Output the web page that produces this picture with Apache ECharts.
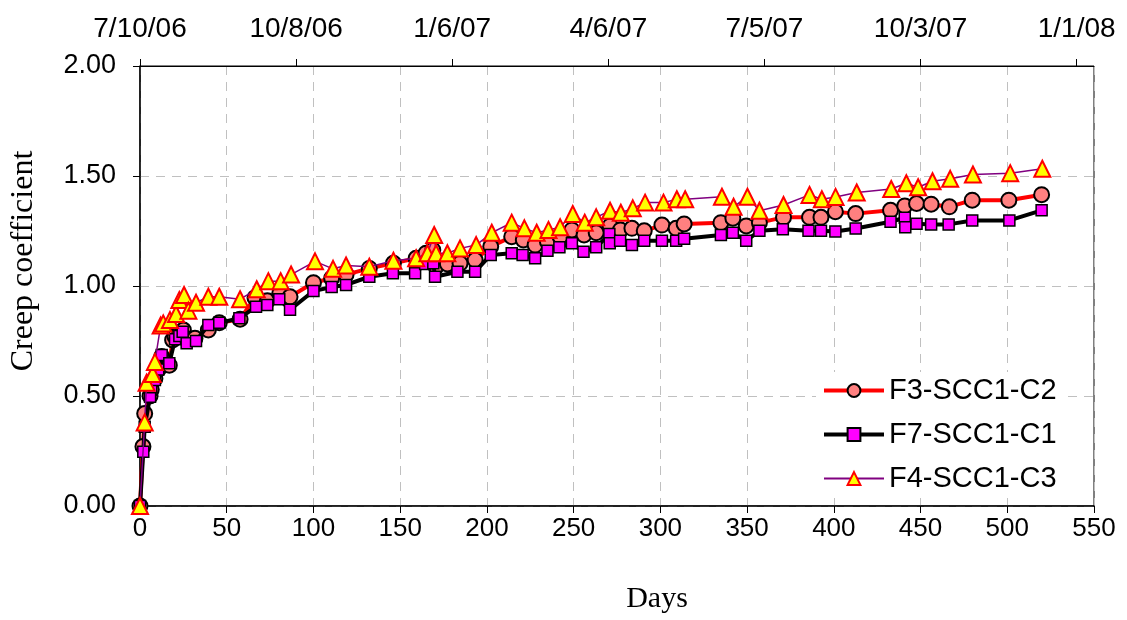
<!DOCTYPE html>
<html><head><meta charset="utf-8">
<script src="https://cdn.jsdelivr.net/npm/echarts@6/dist/echarts.min.js"></script>
<style>html,body{margin:0;padding:0;background:#fff}#c{width:1127px;height:620px}</style>
</head><body><div id="c"></div>
<script>
// Days since loading and creep coefficient
const f3Days = [0,1.7,2.7,5.8,6.5,8.6,10.5,12.5,16.9,18.8,20.2,22.7,25,26.9,31.7,39.4,45.7,57.7,66.3,73.4,80.5,86.5,100,110.5,118.8,132.2,146.1,159.2,164.9,168.8,170.7,177.2,184.5,193.2,202.2,214.3,221,227.8,234.9,242.2,249,256,263,271,277,283.6,290.7,300.9,309.1,313.7,334.9,341.8,349.5,357.1,371,386,392.6,400.9,412.6,432.7,440.9,447.7,456.1,466.6,479.8,500.9,519.8];
const f3Vals = [0,0.27,0.42,0.50,0.53,0.58,0.62,0.68,0.64,0.755,0.77,0.78,0.80,0.76,0.762,0.80,0.833,0.849,0.947,0.933,0.965,0.951,1.015,1.035,1.052,1.08,1.103,1.126,1.149,1.164,1.088,1.10,1.103,1.118,1.179,1.224,1.209,1.186,1.201,1.224,1.255,1.232,1.242,1.273,1.255,1.262,1.251,1.277,1.262,1.282,1.288,1.308,1.273,1.288,1.312,1.312,1.312,1.338,1.329,1.344,1.364,1.375,1.372,1.36,1.39,1.39,1.415];

const f7Days = [0,1.9,2.7,5.8,6.5,8.6,10.5,12.5,16.9,20.2,22.7,24.6,26.9,32.3,39.4,45.7,57.3,66.9,73.4,80.3,86.5,100,110.5,118.8,132.2,145.8,158.6,164.4,169.1,170.1,183,193.2,202.2,214.3,220.6,227.8,234.9,241.8,249,255.7,263,270.6,270.8,276.8,283.6,290.7,300.9,309.1,313.7,334.9,341.8,349.5,357.1,370.6,385.4,392.6,400.9,412.6,432.7,440.9,441.2,447.7,456.1,466.2,479.8,501.2,519.8];
const f7Vals = [0,0.247,0.36,0.497,0.54,0.573,0.62,0.686,0.649,0.758,0.773,0.792,0.74,0.75,0.823,0.833,0.853,0.906,0.914,0.94,0.892,0.977,0.995,1.005,1.042,1.058,1.058,1.10,1.103,1.042,1.065,1.065,1.141,1.149,1.141,1.126,1.16,1.176,1.194,1.156,1.176,1.236,1.194,1.206,1.186,1.206,1.206,1.206,1.215,1.232,1.242,1.206,1.251,1.258,1.251,1.251,1.248,1.261,1.292,1.31,1.267,1.283,1.28,1.28,1.298,1.298,1.344];

const f4Days = [0,2.7,3.8,7.3,8.6,11.9,13.4,17.3,20.8,22.7,25.4,27.9,32.3,39.4,45.7,57.7,67.3,74,81.1,87.1,100.9,111.3,118.8,132.2,146.1,159.2,165.7,169.6,170.7,177.2,184.5,193.8,202.8,214.3,221.6,228.7,235.5,242.2,249.5,256.4,263,271,277.2,284.1,291.2,301.8,309.5,314.3,335.5,342.2,350.2,357.1,371,386,393.1,401,413.2,433.1,441.8,448.6,456.9,467.1,480.2,501.7,520.2];
const f4Vals = [0,0.38,0.56,0.60,0.655,0.82,0.83,0.845,0.873,0.936,0.959,0.888,0.924,0.951,0.951,0.94,0.985,1.022,1.022,1.052,1.112,1.078,1.093,1.088,1.115,1.126,1.149,1.232,1.149,1.149,1.171,1.186,1.242,1.288,1.262,1.242,1.255,1.267,1.327,1.288,1.312,1.342,1.333,1.353,1.379,1.379,1.394,1.394,1.406,1.36,1.406,1.342,1.368,1.414,1.394,1.405,1.425,1.441,1.467,1.449,1.476,1.487,1.507,1.513,1.533];

const seriesNames = ['F3-SCC1-C2','F7-SCC1-C1','F4-SCC1-C3'];
const topTickDays = [0,90,180,270,360,450,540];
const topTickLabels = ['7/10/06','10/8/06','1/6/07','4/6/07','7/5/07','10/3/07','1/1/08'];

const pair = (xs, ys) => xs.map((x, i) => [x, ys[i]]);
const sans = 'Liberation Sans, Arial, sans-serif';
const serif = 'Liberation Serif, Times New Roman, serif';

const chart = echarts.init(document.getElementById('c'), null, {renderer: 'canvas'});
chart.setOption({
  animation: false,
  backgroundColor: '#fff',
  grid: {left: 139, right: 33, top: 66, bottom: 114, show: true, borderColor: '#000', borderWidth: 1, backgroundColor: 'transparent'},
  legend: {
    orient: 'vertical', left: 816, top: 372,
    data: [
      {name: seriesNames[0], lineStyle: {width: 4, color: '#ff0000'}},
      {name: seriesNames[1], lineStyle: {width: 4, color: '#000'}},
      {name: seriesNames[2], lineStyle: {width: 2, color: '#800080'}}
    ],
    itemWidth: 60, itemHeight: 16, itemGap: 15,
    backgroundColor: '#fff', padding: [4, 6, 4, 6],
    textStyle: {fontFamily: sans, fontSize: 29, color: '#000'}
  },
  xAxis: [{
    type: 'value', min: 0, max: 550, interval: 50, position: 'bottom',
    name: 'Days', nameLocation: 'middle', nameGap: 78,
    nameTextStyle: {fontFamily: serif, fontSize: 30, color: '#000', padding: [0, 0, 0, 80]},
    axisLine: {lineStyle: {color: '#000', width: 1.5}},
    axisTick: {show: true, inside: false, length: 7, lineStyle: {color: '#000'}},
    axisLabel: {fontFamily: sans, fontSize: 26, color: '#000', margin: 10},
    splitLine: {show: true, lineStyle: {color: '#c0c0c0', type: [9, 7], width: 1}}
  }, {
    type: 'value', min: 0, max: 550, position: 'top',
    axisLine: {lineStyle: {color: '#000', width: 1}},
    axisTick: {show: true, inside: false, length: 7, customValues: topTickDays, lineStyle: {color: '#000'}},
    axisLabel: {
      customValues: topTickDays,
      fontFamily: sans, fontSize: 28, color: '#000', margin: 23,
      formatter: v => { const i = topTickDays.indexOf(v); return i >= 0 ? topTickLabels[i] : ''; }
    },
    splitLine: {show: false}
  }],
  yAxis: {
    type: 'value', min: 0, max: 2, interval: 0.5,
    name: 'Creep coefficient', nameLocation: 'middle', nameGap: 100, nameRotate: 90,
    nameTextStyle: {fontFamily: serif, fontSize: 32, color: '#000', padding: [0, 0, 0, 50]},
    axisLine: {show: true, lineStyle: {color: '#000', width: 1.5}},
    axisTick: {show: true, inside: false, length: 7, lineStyle: {color: '#000'}},
    axisLabel: {fontFamily: sans, fontSize: 27, color: '#000', margin: 24, formatter: v => v.toFixed(2)},
    splitLine: {show: true, lineStyle: {color: '#c0c0c0', type: [9, 7], width: 1}}
  },
  series: [{
    name: seriesNames[0], type: 'line', xAxisIndex: 0, data: pair(f3Days, f3Vals),
    symbol: 'circle', symbolSize: 15,
    lineStyle: {color: '#ff0000', width: 4},
    itemStyle: {color: '#ff8080', borderColor: '#000', borderWidth: 2},
    z: 2
  }, {
    name: seriesNames[1], type: 'line', xAxisIndex: 0, data: pair(f7Days, f7Vals),
    symbol: 'rect', symbolSize: 11,
    lineStyle: {color: '#000', width: 4},
    itemStyle: {color: '#ff00ff', borderColor: '#000', borderWidth: 1.5},
    z: 3
  }, {
    name: seriesNames[2], type: 'line', xAxisIndex: 0, data: pair(f4Days, f4Vals),
    symbol: 'triangle', symbolSize: 16,
    lineStyle: {color: '#800080', width: 1.5},
    itemStyle: {color: '#ffff00', borderColor: '#ff0000', borderWidth: 2},
    z: 4
  }]
});
</script></body></html>
